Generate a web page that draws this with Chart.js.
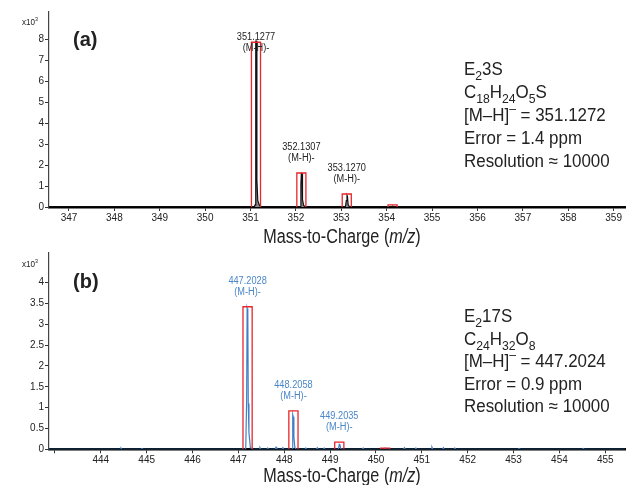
<!DOCTYPE html>
<html>
<head>
<meta charset="utf-8">
<script src="https://cdn.jsdelivr.net/npm/chart.js@4.4.0/dist/chart.umd.min.js"></script>
<style>
  html, body { margin: 0; padding: 0; background: #fff; }
  #wrap { position: relative; width: 629px; height: 485px; overflow: hidden; }
  canvas { position: absolute; left: 0; }
  #cA { top: 0; }
  #cB { top: 242px; }
</style>
</head>
<body>
<div id="wrap">
  <canvas id="cA" width="629" height="250"></canvas>
  <canvas id="cB" width="629" height="243"></canvas>
</div>
<script>
// ---- panel (a): E2 3S profile spectrum (m/z, counts x10^3) ----
const mzA = [346.56, 351.08, 351.10, 351.11, 351.12, 351.135, 351.14, 351.16, 351.20, 351.26,
  352.09, 352.11, 352.12, 352.135, 352.145, 352.17, 352.21,
  353.09, 353.11, 353.125, 353.135, 353.15, 353.18,
  354.10, 354.13, 354.16, 359.25];
const countsA = [0, 0, 0.1, 2.2, 7.9, 7.9, 1.3, 0.3, 0.06, 0,
  0, 1.1, 1.6, 1.6, 0.35, 0.08, 0,
  0, 0.3, 0.55, 0.5, 0.12, 0,
  0, 0.05, 0, 0];
// theoretical isotope boxes
const boxMzA = [351.12, 352.12, 353.12, 354.13];
const boxHA = [7.85, 1.62, 0.62, 0.1];
const peakLabelsA = ['351.1277', '352.1307', '353.1270'];
const yTicksTopA = 8;
const infoA = ['E_{2}3S', 'C_{18}H_{24}O_{5}S', '[M–H]^{–} = 351.1272', 'Error = 1.4 ppm', 'Resolution ≈ 10000'];

// ---- panel (b): E2 17S ----
const mzB = [442.87, 444.42, 444.44, 444.46, 444.88, 444.9, 444.92,
  447.16, 447.18, 447.19, 447.205, 447.215, 447.23, 447.26, 447.3,
  447.45, 447.47, 447.49, 447.62, 447.64, 447.66, 447.8, 447.82, 447.84, 447.95, 447.97, 447.99,
  448.17, 448.185, 448.195, 448.21, 448.23, 448.26,
  448.45, 448.47, 448.49, 448.7, 448.72, 448.74, 448.85, 448.87, 448.89,
  449.18, 449.2, 449.215, 449.23, 449.26,
  449.7, 449.72, 449.74, 450.18, 450.2, 450.22,
  450.6, 450.62, 450.64, 450.85, 450.87, 450.89, 451.2, 451.22, 451.24, 451.45, 451.47, 451.49,
  451.7, 451.72, 451.74, 453.1, 453.12, 453.14, 454.5, 454.52, 454.54, 455.43];
const countsB = [0, 0, 0.03, 0, 0, 0.02, 0,
  0, 1.2, 3.38, 3.3, 1.1, 0.4, 0.05, 0,
  0, 0.04, 0, 0, 0.03, 0, 0, 0.05, 0, 0, 0.04, 0,
  0, 0.83, 0.78, 0.3, 0.05, 0,
  0, 0.03, 0, 0, 0.04, 0, 0, 0.03, 0,
  0, 0.12, 0.1, 0.02, 0,
  0, 0.03, 0, 0, 0.03, 0,
  0, 0.04, 0, 0, 0.03, 0, 0, 0.05, 0, 0, 0.04, 0,
  0, 0.03, 0, 0, 0.02, 0, 0, 0.02, 0, 0];
const boxMzB = [447.2, 448.2, 449.2, 450.2];
const boxHB = [3.42, 0.92, 0.17, 0.03];
const peakLabelsB = ['447.2028', '448.2058', '449.2035'];
const yTicksTopB = 4;
const infoB = ['E_{2}17S', 'C_{24}H_{32}O_{8}', '[M–H]^{–} = 447.2024', 'Error = 0.9 ppm', 'Resolution ≈ 10000'];

const FAMILY = "'Liberation Sans', Arial, sans-serif";
const NARROW = "'Liberation Sans Narrow', 'Liberation Sans', sans-serif";
const BOX_HALF = 0.1;

function points(xs, ys) {
  return xs.map((x, i) => ({ x: x, y: ys[i] }));
}

function boxPoints(centers, heights) {
  const pts = [];
  centers.forEach((c, i) => {
    pts.push({ x: c - BOX_HALF, y: 0 }, { x: c - BOX_HALF, y: heights[i] },
             { x: c + BOX_HALF, y: heights[i] }, { x: c + BOX_HALF, y: 0 },
             { x: c, y: null });
  });
  return pts;
}

// "E_{2}3S" -> parts with sub / sup flags
function parse(str) {
  const parts = [];
  const re = /([_^])\{([^}]*)\}|([^_^]+)/g;
  let m;
  while ((m = re.exec(str))) {
    if (m[3]) parts.push({ t: m[3] });
    else parts.push({ t: m[2], s: m[1] === '_' ? 'sub' : 'sup' });
  }
  return parts;
}

function drawParts(ctx, parts, x, y, o) {
  const size = o.size, sx = o.sx || 1;
  const fonts = parts.map(p => {
    const fs = p.s ? Math.round(size * 0.72) : size;
    return (o.bold ? 'bold ' : '') + (p.i ? 'italic ' : '') + fs + 'px ' + FAMILY;
  });
  ctx.save();
  let w = 0;
  parts.forEach((p, i) => { ctx.font = fonts[i]; w += ctx.measureText(p.t).width; });
  const x0 = o.align === 'center' ? x - w * sx / 2 : o.align === 'right' ? x - w * sx : x;
  ctx.translate(x0, y);
  if (o.rotate) ctx.rotate(o.rotate);
  ctx.scale(sx, 1);
  ctx.fillStyle = o.color || '#222';
  ctx.textAlign = 'left';
  ctx.textBaseline = 'alphabetic';
  let cx = 0;
  parts.forEach((p, i) => {
    ctx.font = fonts[i];
    const dy = p.s === 'sub' ? size * 0.3 : p.s === 'sup' ? -size * 0.42 : 0;
    ctx.fillText(p.t, cx, dy);
    cx += ctx.measureText(p.t).width;
  });
  ctx.restore();
}

function decoPlugin(tag, info, peakLabels, boxMz, boxH, labelColor, infoBase, infoStep, titleBase) {
  return {
    id: 'deco' + tag,
    afterDraw(chart) {
      const ctx = chart.ctx;
      const xs = chart.scales.x, ys = chart.scales.y;
      // panel letter
      drawParts(ctx, [{ t: '(' + tag + ')' }], 73, 46, { size: 20, bold: true, color: '#222' });
      // x10^3
      drawParts(ctx, [{ t: 'x10' }, { t: '3', s: 'sup' }], 22, 25, { size: 9, color: '#222', sx: 0.9 });
      // y title
      ctx.save();
      ctx.translate(25, chart.chartArea.top + (chart.chartArea.bottom - chart.chartArea.top) / 2 - 4);
      drawParts(ctx, [{ t: 'Counts' }], 0, 0, { size: 20, color: '#222', sx: 0.8, align: 'center', rotate: -Math.PI / 2 });
      ctx.restore();
      // x title
      drawParts(ctx, [{ t: 'Mass-to-Charge (' }, { t: 'm/z', i: true }, { t: ')' }], 342, titleBase,
        { size: 20, color: '#222', sx: 0.81, align: 'center' });
      // info block
      info.forEach((line, i) => {
        drawParts(ctx, parse(line), 464, infoBase + i * infoStep, { size: 18, color: '#222', sx: 0.94 });
      });
      // peak annotations
      peakLabels.forEach((lab, i) => {
        const px = xs.getPixelForValue(boxMz[i]);
        const top = Math.max(ys.getPixelForValue(boxH[i]) - 27, 36);
        drawParts(ctx, [{ t: lab }], px, top + 4, { size: 10, color: labelColor, sx: 0.92, align: 'center' });
        drawParts(ctx, [{ t: '(M-H)-' }], px, top + 15, { size: 10, color: labelColor, sx: 0.92, align: 'center' });
      });
    }
  };
}

function makeChart(id, opts) {
  return new Chart(document.getElementById(id), {
    type: 'line',
    data: {
      datasets: [
        {
          data: opts.spectrum,
          borderColor: opts.lineColor,
          backgroundColor: opts.fillColor,
          fill: opts.fillColor ? 'origin' : false,
          borderWidth: 1.2,
          pointRadius: 0,
          tension: 0,
          order: 2
        },
        {
          data: opts.boxes,
          borderColor: '#e8262b',
          borderWidth: 1.3,
          pointRadius: 0,
          spanGaps: false,
          tension: 0,
          order: 1
        }
      ]
    },
    options: {
      responsive: false,
      animation: false,
      layout: { padding: { left: 0, right: 4, top: opts.padTop, bottom: 0 } },
      plugins: { legend: { display: false }, tooltip: { enabled: false } },
      scales: {
        x: {
          type: 'linear',
          min: opts.xMin,
          max: opts.xMax,
          afterFit(scale) { scale.height = opts.xAxisH; },
          border: { display: true, color: '#000', width: 2.5 },
          grid: { drawOnChartArea: false, drawTicks: true, tickLength: 4, color: '#333' },
          ticks: {
            stepSize: 1,
            includeBounds: false,
            maxRotation: 0,
            autoSkip: false,
            padding: 1,
            color: '#222',
            font: { family: NARROW, size: 10 },
            callback: v => (v < opts.firstLabel ? '' : String(v))
          }
        },
        y: {
          min: 0,
          max: opts.yMax,
          afterFit(scale) { scale.width = 49; },
          afterBuildTicks(scale) { scale.ticks = scale.ticks.filter(t => t.value <= opts.yTop); },
          border: { display: true, color: '#444', width: 1.2 },
          grid: { drawOnChartArea: false, drawTicks: true, tickLength: 4, color: '#333' },
          ticks: {
            stepSize: opts.yStep,
            includeBounds: false,
            padding: 1,
            color: '#222',
            font: { family: NARROW, size: 10 },
            callback: v => String(v)
          }
        }
      }
    },
    plugins: [opts.deco]
  });
}

makeChart('cA', {
  spectrum: points(mzA, countsA),
  boxes: boxPoints(boxMzA, boxHA),
  lineColor: '#111',
  fillColor: '#8a8a8a',
  xMin: 346.56, xMax: 359.25, firstLabel: 347,
  yMax: 9.29, yStep: 1, yTop: yTicksTopA,
  padTop: 12, xAxisH: 43,
  deco: decoPlugin('a', infoA, peakLabelsA, boxMzA, boxHA, '#222', 75, 23, 243)
});

makeChart('cB', {
  spectrum: points(mzB, countsB),
  boxes: boxPoints(boxMzB, boxHB),
  lineColor: '#3f7fc4',
  fillColor: null,
  xMin: 442.87, xMax: 455.43, firstLabel: 444,
  yMax: 4.71, yStep: 0.5, yTop: yTicksTopB,
  padTop: 11, xAxisH: 35.7,
  deco: decoPlugin('b', infoB, peakLabelsB, boxMzB, boxHB, '#4a86c8', 80, 22.5, 240)
});
</script>
</body>
</html>
